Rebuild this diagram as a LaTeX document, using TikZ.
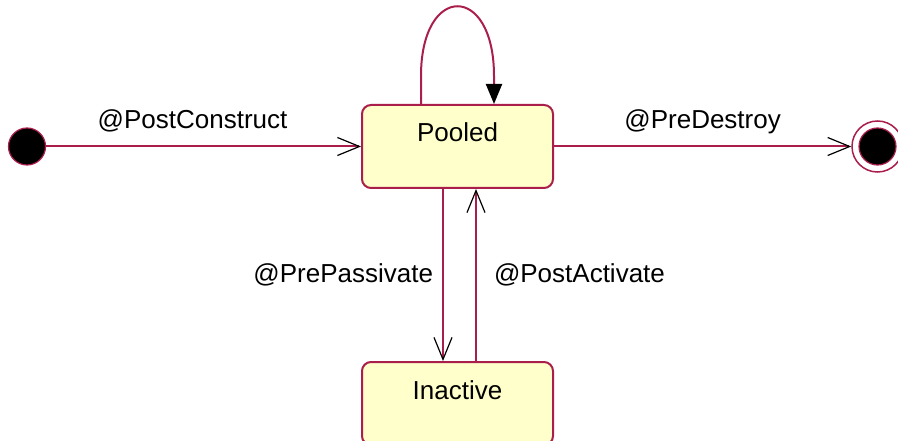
\documentclass[tikz,border=0pt]{standalone}
\usepackage{fontspec}
\setmainfont{Liberation Sans}
\usetikzlibrary{arrows.meta}
\definecolor{umlline}{RGB}{170,30,75}
\definecolor{umlfill}{RGB}{255,255,204}

\begin{document}
\begin{tikzpicture}[x=1pt, y=-1pt,
  every node/.style={font=\fontsize{26}{30}\selectfont},
  state/.style={draw=umlline, fill=umlfill, line width=2pt, rounded corners=9pt,
    minimum width=191pt, inner sep=0pt, text height=37pt, text depth=46pt},
  flow/.style={draw=umlline, line width=2pt,
    -{Straight Barb[black, length=22pt, width=18pt, line width=1.2pt]}},
  tag/.style={inner sep=0pt}]

\useasboundingbox (0,0) rectangle (898,441);

% Dimensions
\def\midx{457.5}
\def\midy{146.5}

% States
\node[state] (pooled) at (\midx, \midy) {Pooled};
\node[state] (inactive) at (\midx, 403.5) {Inactive};

% Start and end points
\node[circle, fill=black, draw=umlline, line width=1.2pt, minimum size=37pt, inner sep=0pt] (start) at (27, \midy) {};
\node[circle, draw=umlline, line width=1.5pt, minimum size=51pt, inner sep=0pt] (stop) at (877.5, \midy) {};
\node[circle, fill=black, draw=umlline, line width=1.2pt, minimum size=37pt, inner sep=0pt] (stopdot) at (stop) {};

% Transitions
\draw[flow] (start) -- (pooled) node[tag, pos=0.465, anchor=base, yshift=18pt] {@PostConstruct};
\draw[flow] (pooled) -- (stop) node[tag, pos=0.5, anchor=base, yshift=18pt] {@PreDestroy};
\draw[flow] ([xshift=-14.5pt]pooled.south) -- ([xshift=-14.5pt]inactive.north)
  node[tag, midway, anchor=east, xshift=-9pt] {@PrePassivate};
\draw[flow] ([xshift=18.5pt]inactive.north) -- ([xshift=18.5pt]pooled.south)
  node[tag, midway, anchor=west, xshift=17pt] {@PostActivate};

% Self loop on Pooled
\draw[draw=umlline, line width=2pt, -{Triangle[black, length=20pt, width=16pt]}]
  ([xshift=-36.5pt]pooled.north) -- ++(0,-28)
  .. controls +(0,-93) and +(0,-93) .. ++(73,0) -- ([xshift=36.5pt]pooled.north);

\end{tikzpicture}
\end{document}
